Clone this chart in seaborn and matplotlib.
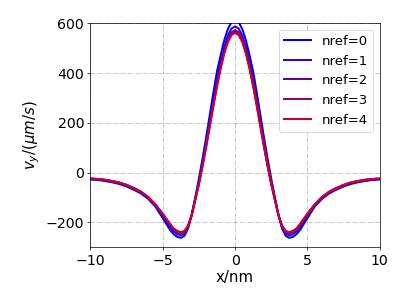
import numpy as np
import pandas as pd
import seaborn as sns
import matplotlib.pyplot as plt

# x positions (nm)
x_nm = [-10, -9.5, -9, -8.5, -8, -7.5, -7, -6.5, -6, -5.5,
        -5, -4.75, -4.5, -4.25, -4, -3.75, -3.5, -3.25, -3, -2.75,
        -2.5, -2.25, -2, -1.75, -1.5, -1.25, -1, -0.75, -0.5, -0.25,
        0,
        0.25, 0.5, 0.75, 1, 1.25, 1.5, 1.75, 2, 2.25, 2.5,
        2.75, 3, 3.25, 3.5, 3.75, 4, 4.25, 4.5, 4.75, 5,
        5.5, 6, 6.5, 7, 7.5, 8, 8.5, 9, 9.5, 10]

# v_y (um/s)
vy_nref0 = [-28, -30, -34, -39, -46, -56, -69, -84, -106, -137,
            -183, -206, -230, -247, -258, -262, -254, -225, -170, -100,
            -25, 55, 140, 230, 320, 405, 470, 530, 575, 603,
            612,
            603, 575, 530, 470, 405, 320, 230, 140, 55, -25,
            -100, -170, -225, -254, -262, -258, -247, -230, -206, -183,
            -137, -106, -84, -69, -56, -46, -39, -34, -30, -28]

vy_nref1 = [-26, -28, -32, -37, -43, -53, -66, -81, -102, -133,
            -175, -196, -218, -236, -247, -252, -245, -220, -171, -104,
            -37, 39, 121, 207, 293, 375, 443, 503, 549, 577,
            586,
            577, 549, 503, 443, 375, 293, 207, 121, 39, -37,
            -104, -171, -220, -245, -252, -247, -236, -218, -196, -175,
            -133, -102, -81, -66, -53, -43, -37, -32, -28, -26]

vy_nref2 = [-25, -27, -30, -35, -41, -51, -63, -78, -100, -130,
            -168, -189, -210, -229, -239, -244, -239, -216, -171, -107,
            -43, 31, 110, 193, 277, 357, 427, 488, 534, 562,
            571,
            562, 534, 488, 427, 357, 277, 193, 110, 31, -43,
            -107, -171, -216, -239, -244, -239, -229, -210, -189, -168,
            -130, -100, -78, -63, -51, -41, -35, -30, -27, -25]

vy_nref3 = [-24, -26, -29, -34, -40, -50, -62, -77, -99, -129,
            -166, -187, -207, -226, -236, -241, -236, -214, -172, -109,
            -46, 27, 105, 187, 270, 349, 420, 481, 527, 555,
            564,
            555, 527, 481, 420, 349, 270, 187, 105, 27, -46,
            -109, -172, -214, -236, -241, -236, -226, -207, -187, -166,
            -129, -99, -77, -62, -50, -40, -34, -29, -26, -24]

vy_nref4 = [-24, -26, -29, -34, -40, -49, -62, -77, -98, -128,
            -165, -185, -205, -224, -234, -239, -234, -213, -172, -110,
            -48, 24, 102, 184, 266, 345, 416, 477, 523, 551,
            560,
            551, 523, 477, 416, 345, 266, 184, 102, 24, -48,
            -110, -172, -213, -234, -239, -234, -224, -205, -185, -165,
            -128, -98, -77, -62, -49, -40, -34, -29, -26, -24]

labels = ["nref=0", "nref=1", "nref=2", "nref=3", "nref=4"]
colors = ["#0000ff", "#3300cc", "#660099", "#990066", "#cc0033"]

series = [vy_nref0, vy_nref1, vy_nref2, vy_nref3, vy_nref4]
df = pd.concat(
    [pd.DataFrame({"x": x_nm, "vy": vy, "nref": lab}) for vy, lab in zip(series, labels)],
    ignore_index=True)

fig = plt.figure(figsize=(6.4, 4.8), dpi=63.6)
ax = fig.add_axes([0.222, 0.189, 0.711, 0.735])

sns.lineplot(data=df, x="x", y="vy", hue="nref", palette=colors,
             linewidth=2.3, ax=ax, sort=False)

ax.set_xlim(-10, 10)
ax.set_ylim(-300, 600)
ax.set_xticks([-10, -5, 0, 5, 10])
ax.set_yticks([-200, 0, 200, 400, 600])
ax.tick_params(labelsize=16)
ax.grid(True, linestyle="-.", color="k", alpha=0.3, linewidth=0.8)

ax.set_xlabel("x/nm", fontsize=17, labelpad=2)
ax.set_ylabel(r"$v_y/(\mu m/s)$", fontsize=17)

handles, labs = ax.get_legend_handles_labels()
ax.legend(handles, labs, loc="upper right", fontsize=15)

fig.savefig("out.png", dpi=63.6)
